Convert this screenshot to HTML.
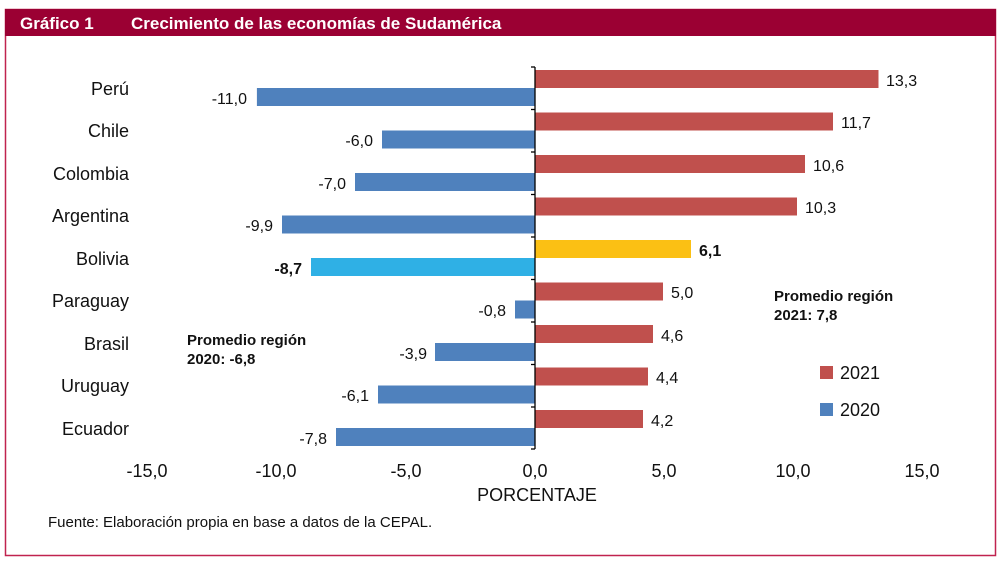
<!DOCTYPE html>
<html><head><meta charset="utf-8"><style>
body{margin:0;background:#fff;}
svg{display:block;}
text{font-family:"Liberation Sans Narrow","Liberation Sans",sans-serif;fill:#111;}
</style></head><body>
<svg width="1000" height="564" viewBox="0 0 1000 564" xmlns="http://www.w3.org/2000/svg">
<rect x="5.5" y="9.5" width="990" height="546" fill="#fff" stroke="#c0234f" stroke-width="1.5"/>
<rect x="5" y="9" width="991" height="27" fill="#9b0033"/>
<text x="20" y="29" font-size="17" font-weight="bold" style="fill:#fff">Gráfico 1</text>
<text x="131" y="29" font-size="17" font-weight="bold" style="fill:#fff">Crecimiento de las economías de Sudamérica</text>
<g id="bars"></g>
<!-- bars -->
<g>
<rect x="535" y="70" width="343.5" height="18" fill="#c0504d"/>
<rect x="256.9" y="88" width="278.1" height="18" fill="#4f81bd"/>
<rect x="535" y="112.5" width="298" height="18" fill="#c0504d"/>
<rect x="382" y="130.5" width="153" height="18" fill="#4f81bd"/>
<rect x="535" y="155" width="270" height="18" fill="#c0504d"/>
<rect x="355" y="173" width="180" height="18" fill="#4f81bd"/>
<rect x="535" y="197.5" width="262" height="18" fill="#c0504d"/>
<rect x="282" y="215.5" width="253" height="18" fill="#4f81bd"/>
<rect x="535" y="240" width="156" height="18" fill="#fbc014"/>
<rect x="311" y="258" width="224" height="18" fill="#2fb0e5"/>
<rect x="535" y="282.5" width="128" height="18" fill="#c0504d"/>
<rect x="515" y="300.5" width="20" height="18" fill="#4f81bd"/>
<rect x="535" y="325" width="118" height="18" fill="#c0504d"/>
<rect x="435" y="343" width="100" height="18" fill="#4f81bd"/>
<rect x="535" y="367.5" width="113" height="18" fill="#c0504d"/>
<rect x="378" y="385.5" width="157" height="18" fill="#4f81bd"/>
<rect x="535" y="410" width="108" height="18" fill="#c0504d"/>
<rect x="336" y="428" width="199" height="18" fill="#4f81bd"/>
</g>
<g stroke="#000" stroke-width="1.3">
<line x1="535" y1="67" x2="535" y2="449"/>
<line x1="531" y1="67" x2="535" y2="67"/><line x1="531" y1="109.5" x2="535" y2="109.5"/>
<line x1="531" y1="152" x2="535" y2="152"/><line x1="531" y1="194.5" x2="535" y2="194.5"/>
<line x1="531" y1="237" x2="535" y2="237"/><line x1="531" y1="279.5" x2="535" y2="279.5"/>
<line x1="531" y1="322" x2="535" y2="322"/><line x1="531" y1="364.5" x2="535" y2="364.5"/>
<line x1="531" y1="407" x2="535" y2="407"/><line x1="531" y1="449" x2="535" y2="449"/>
</g>
<g font-size="18" text-anchor="end">
<text x="129" y="95">Perú</text>
<text x="129" y="137">Chile</text>
<text x="129" y="180">Colombia</text>
<text x="129" y="222">Argentina</text>
<text x="129" y="265">Bolivia</text>
<text x="129" y="307">Paraguay</text>
<text x="129" y="350">Brasil</text>
<text x="129" y="392">Uruguay</text>
<text x="129" y="435">Ecuador</text>
</g>
<g font-size="16">
<text x="886" y="86">13,3</text>
<text x="841" y="128">11,7</text>
<text x="813" y="171">10,6</text>
<text x="805" y="213">10,3</text>
<text x="699" y="256" font-weight="bold">6,1</text>
<text x="671" y="298">5,0</text>
<text x="661" y="341">4,6</text>
<text x="656" y="383">4,4</text>
<text x="651" y="426">4,2</text>
</g>
<g font-size="16" text-anchor="end">
<text x="247" y="104">-11,0</text>
<text x="373" y="146">-6,0</text>
<text x="346" y="189">-7,0</text>
<text x="273" y="231">-9,9</text>
<text x="302" y="274" font-weight="bold">-8,7</text>
<text x="506" y="316">-0,8</text>
<text x="427" y="359">-3,9</text>
<text x="369" y="401">-6,1</text>
<text x="327" y="444">-7,8</text>
</g>
<g font-size="15" font-weight="bold">
<text x="774" y="301">Promedio región</text>
<text x="774" y="320">2021: 7,8</text>
<text x="187" y="345">Promedio región</text>
<text x="187" y="364">2020: -6,8</text>
</g>
<rect x="820" y="366" width="13" height="13" fill="#c0504d"/>
<text x="840" y="379" font-size="18">2021</text>
<rect x="820" y="403" width="13" height="13" fill="#4f81bd"/>
<text x="840" y="416" font-size="18">2020</text>
<g font-size="18" text-anchor="middle">
<text x="147" y="477">-15,0</text>
<text x="276" y="477">-10,0</text>
<text x="406" y="477">-5,0</text>
<text x="535" y="477">0,0</text>
<text x="664" y="477">5,0</text>
<text x="793" y="477">10,0</text>
<text x="922" y="477">15,0</text>
<text x="537" y="501">PORCENTAJE</text>
</g>
<text x="48" y="527" font-size="15">Fuente: Elaboración propia en base a datos de la CEPAL.</text>
</svg>
</body></html>
